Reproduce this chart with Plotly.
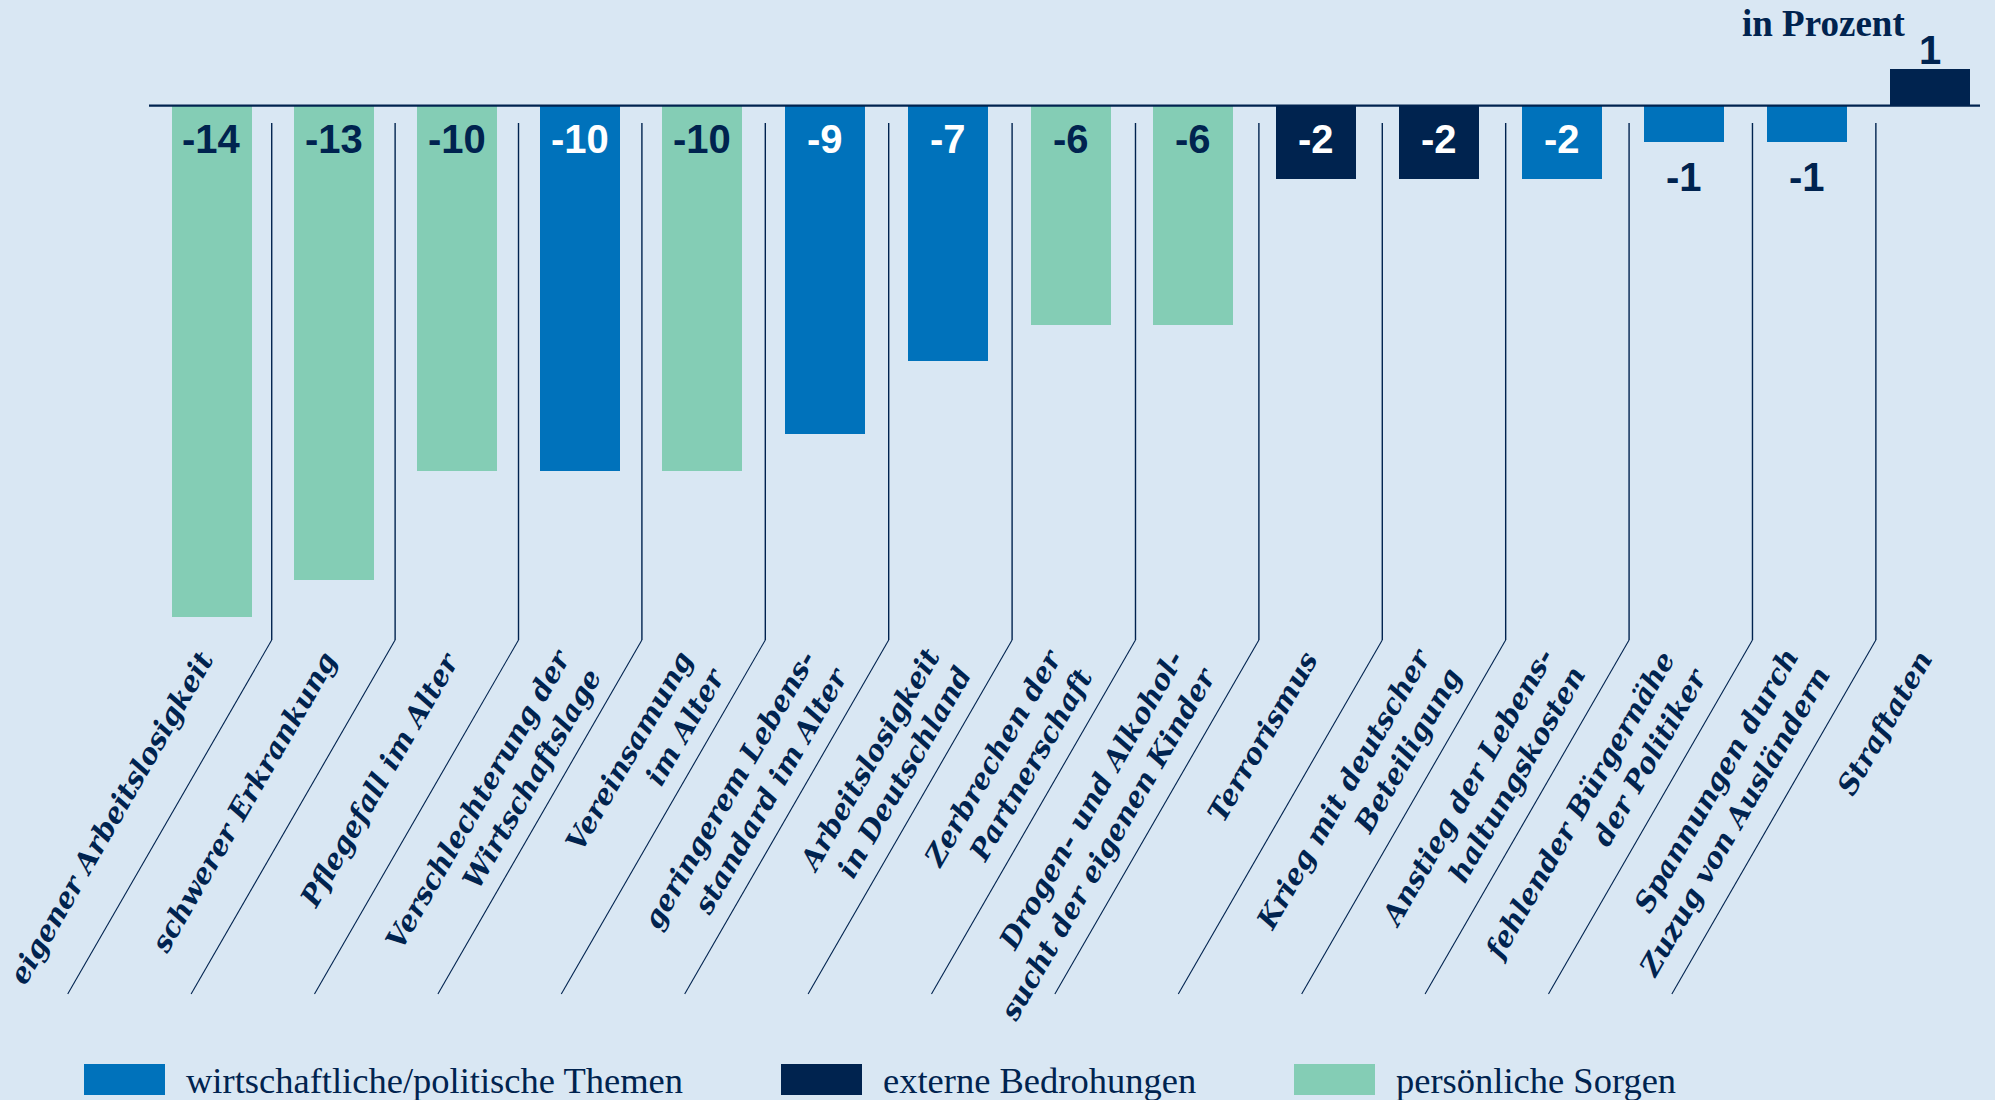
import plotly.graph_objects as go

# ---------------- data ----------------
categories = [
    "eigener Arbeitslosigkeit",
    "schwerer Erkrankung",
    "Pflegefall im Alter",
    "Verschlechterung der<br>Wirtschaftslage",
    "Vereinsamung<br>im Alter",
    "geringerem Lebens-<br>standard im Alter",
    "Arbeitslosigkeit<br>in Deutschland",
    "Zerbrechen der<br>Partnerschaft",
    "Drogen- und Alkohol-<br>sucht der eigenen Kinder",
    "Terrorismus",
    "Krieg mit deutscher<br>Beteiligung",
    "Anstieg der Lebens-<br>haltungskosten",
    "fehlender Bürgernähe<br>der Politiker",
    "Spannungen durch<br>Zuzug von Ausländern",
    "Straftaten",
]
values = [-14, -13, -10, -10, -10, -9, -7, -6, -6, -2, -2, -2, -1, -1, 1]
groups = ["P", "P", "P", "W", "P", "W", "W", "P", "P", "E", "E", "W", "W", "W", "E"]

group_keys = ["W", "E", "P"]
group_names = {
    "W": "wirtschaftliche/politische Themen",
    "E": "externe Bedrohungen",
    "P": "persönliche Sorgen",
}
unit_label = "in Prozent"

# ---------------- style ----------------
BG = "#d9e7f3"
NAVY = "#00234f"
BLUE = "#0072bb"
GREEN = "#84cdb5"
group_colors = {"W": BLUE, "E": NAVY, "P": GREEN}
label_on_bar = {"W": "white", "E": "white", "P": NAVY}

W, H = 1995, 1100
BASE_L, BASE_R = 149, 1980           # px extent of the baseline
PLOT_T, PLOT_B = 0, 1010             # px
ZERO_PX = 105.6
PPU_Y = 36.5
BX0, BX1 = -0.51, 14.41              # data extent of baseline
PPU_X = (BASE_R - BASE_L) / (BX1 - BX0)
X0 = BX0 - BASE_L / PPU_X            # full-width plot area
X1 = BX1 + (W - BASE_R) / PPU_X
Y1 = (ZERO_PX - PLOT_T) / PPU_Y
Y0 = -(PLOT_B - ZERO_PX) / PPU_Y

VAL_FONT = dict(family="Liberation Sans", size=40, weight="bold")
CAT_FONT = dict(family="DejaVu Serif", size=28, color=NAVY, weight="bold", style="italic")
LEG_FONT = dict(family="Liberation Serif", size=36.5, color=NAVY)

fig = go.Figure()

for g in group_keys:
    idx = [i for i, gg in enumerate(groups) if gg == g]
    fig.add_trace(go.Bar(
        x=idx,
        y=[values[i] for i in idx],
        width=0.652,
        marker=dict(color=group_colors[g], line=dict(width=0)),
        name=group_names[g],
        showlegend=False,
        hoverinfo="skip",
    ))

annotations = []
shapes = []

# baseline
shapes.append(dict(type="line", xref="x", yref="y", x0=BX0, x1=BX1, y0=0, y1=0,
                   line=dict(color=NAVY, width=2.2), layer="above"))

# value labels
for i, v in enumerate(values):
    g = groups[i]
    if abs(v) >= 2:
        annotations.append(dict(
            x=i, y=0, xref="x", yref="y", text=str(v), showarrow=False,
            xanchor="center", yanchor="top", yshift=-9.8,
            font=dict(VAL_FONT, color=label_on_bar[g]),
        ))
    elif v < 0:
        annotations.append(dict(
            x=i, y=v, xref="x", yref="y", text=str(v), showarrow=False,
            xanchor="center", yanchor="top", yshift=-11,
            font=dict(VAL_FONT, color=NAVY),
        ))
    else:
        annotations.append(dict(
            x=i, y=v, xref="x", yref="y", text=str(v), showarrow=False,
            xanchor="center", yanchor="bottom", yshift=-4.5,
            font=dict(VAL_FONT, color=NAVY),
        ))

# separators (vertical + diagonal)
SEP_TOP = -(123 - ZERO_PX) / PPU_Y
SEP_KNEE = -(640 - ZERO_PX) / PPU_Y
SEP_END = -(994 - ZERO_PX) / PPU_Y
SEP_DX = -204 / PPU_X
SEP_STEP = 1.0055
for k in range(len(categories) - 1):
    xs = 0.49 + k * SEP_STEP
    shapes.append(dict(type="line", xref="x", yref="y", x0=xs, x1=xs, y0=SEP_TOP, y1=SEP_KNEE,
                       line=dict(color=NAVY, width=1.4)))
    shapes.append(dict(type="line", xref="x", yref="y", x0=xs, x1=xs + SEP_DX, y0=SEP_KNEE, y1=SEP_END,
                       line=dict(color=NAVY, width=1.1)))

# category labels
for i, c in enumerate(categories):
    n = c.count("<br>") + 1
    top_px = 646.3 - 3 * n
    annotations.append(dict(
        x=i, y=0, xref="x", yref="y", text=c, showarrow=False,
        textangle=-60, xanchor="right", yanchor="top", align="right",
        xshift=-8.6 + 20.6 * n, yshift=-(top_px - ZERO_PX),
        font=CAT_FONT,
    ))

# unit label
annotations.append(dict(
    x=1907 / W, y=1 - 46.5 / H, xref="paper", yref="paper", text=unit_label, showarrow=False,
    xanchor="right", yanchor="bottom",
    font=dict(family="Liberation Serif", size=37, color=NAVY, weight="bold"),
))

# legend
leg_sw_x = [84, 781, 1294]
for g, sx in zip(group_keys, leg_sw_x):
    shapes.append(dict(type="rect", xref="paper", yref="paper",
                       x0=sx / W, x1=(sx + 81) / W, y0=1 - 1095 / H, y1=1 - 1064 / H,
                       fillcolor=group_colors[g], line=dict(width=0)))
    annotations.append(dict(
        x=(sx + 100) / W, y=1 - 1080.7 / H, xref="paper", yref="paper",
        text=group_names[g], showarrow=False, xanchor="left", yanchor="middle",
        font=LEG_FONT,
    ))

fig.update_layout(
    width=W, height=H,
    margin=dict(l=0, r=0, t=0, b=0),
    paper_bgcolor=BG, plot_bgcolor=BG,
    barmode="overlay",
    bargap=0,
    xaxis=dict(domain=[0, 1], range=[X0, X1], visible=False, fixedrange=True),
    yaxis=dict(domain=[1 - PLOT_B / H, 1 - PLOT_T / H], range=[Y0, Y1], showgrid=False,
               showticklabels=False, zeroline=False, showline=False, ticks="", fixedrange=True),
    annotations=annotations,
    shapes=shapes,
    showlegend=False,
)

fig.write_html("out.html", post_script="document.body.style.margin='0';",
               config={"displayModeBar": False})
